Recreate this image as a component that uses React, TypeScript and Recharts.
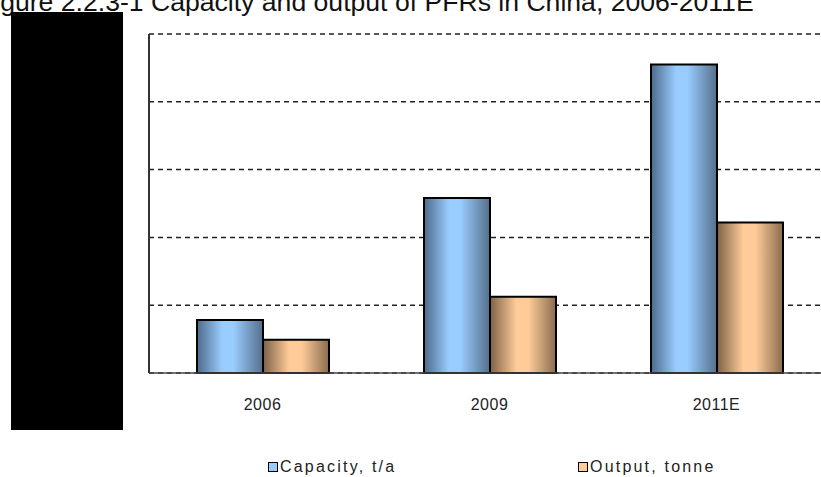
import { Bar, BarChart, CartesianGrid, Legend, XAxis, YAxis } from "recharts";

const years = ["2006", "2009", "2011E"];
const capacity = [7800, 25800, 45500];
const output = [4900, 11250, 22200];
const yTicks = [0, 10000, 20000, 30000, 40000, 50000];

const data = years.map((year, i) => ({
    year,
    capacity: capacity[i],
    output: output[i],
}));

const legendItems = [
    { label: "Capacity, t/a", fill: "#99ccff", left: 268 },
    { label: "Output, tonne", fill: "#ffcc99", left: 578 },
];

function ChartLegend() {
    return (
        <div style={{ position: "relative", width: 821, height: 20 }}>
            {legendItems.map((item) => (
                <div
                    key={item.label}
                    style={{
                        position: "absolute",
                        left: item.left,
                        top: 0,
                        display: "flex",
                        alignItems: "center",
                        fontFamily: "'Liberation Sans', Arial, sans-serif",
                        fontSize: 16,
                        letterSpacing: 2.2,
                        color: "#222",
                        whiteSpace: "nowrap",
                    }}
                >
                    <span
                        style={{
                            display: "inline-block",
                            width: 8,
                            height: 8,
                            background: item.fill,
                            border: "1.5px solid #000",
                            marginRight: 2,
                        }}
                    />
                    {item.label}
                </div>
            ))}
        </div>
    );
}

export default function App() {
    return (
        <div
            style={{
                position: "absolute",
                left: 0,
                top: 0,
                width: 821,
                height: 477,
                overflow: "hidden",
                background: "#fff",
            }}
        >
            <div
                style={{
                    position: "absolute",
                    left: -22,
                    top: -13,
                    fontFamily: "'Liberation Sans', Arial, sans-serif",
                    fontSize: 26.6,
                    color: "#111",
                    whiteSpace: "nowrap",
                }}
            >
                Figure 2.2.3-1 Capacity and output of PFRs in China, 2006-2011E
            </div>
            <BarChart
                width={850}
                height={477}
                data={data}
                margin={{ top: 34, right: 20, left: 0, bottom: 0 }}
                barCategoryGap={48}
                barGap={0}
            >
                <defs>
                    <linearGradient id="blueFill" x1="0" y1="0" x2="1" y2="0">
                        <stop offset="0" stopColor="#4d6a8a" />
                        <stop offset="0.38" stopColor="#99ccff" />
                        <stop offset="0.55" stopColor="#99ccff" />
                        <stop offset="1" stopColor="#556f8c" />
                    </linearGradient>
                    <linearGradient id="orangeFill" x1="0" y1="0" x2="1" y2="0">
                        <stop offset="0" stopColor="#7d6147" />
                        <stop offset="0.4" stopColor="#ffcc99" />
                        <stop offset="0.58" stopColor="#ffcc99" />
                        <stop offset="1" stopColor="#8a6c4e" />
                    </linearGradient>
                </defs>
                <CartesianGrid
                    vertical={false}
                    stroke="#222"
                    strokeDasharray="5 4"
                    strokeWidth={1.5}
                />
                <XAxis
                    dataKey="year"
                    height={40}
                    stroke="#444"
                    strokeWidth={1.5}
                    tickLine={false}
                    tick={{
                        fill: "#222",
                        fontSize: 16,
                        letterSpacing: 0.5,
                        fontFamily: "'Liberation Sans', Arial, sans-serif",
                    }}
                    tickMargin={20}
                />
                <YAxis
                    width={149}
                    domain={[0, 50000]}
                    ticks={yTicks}
                    interval={0}
                    stroke="#333"
                    strokeWidth={2}
                    tickLine={false}
                    tickMargin={24}
                    tick={{ fill: "#000", fontSize: 13 }}
                />
                <Legend
                    verticalAlign="bottom"
                    height={64}
                    content={() => (
                        <div style={{ paddingTop: 45 }}>
                            <ChartLegend />
                        </div>
                    )}
                />
                <Bar
                    dataKey="capacity"
                    name="Capacity, t/a"
                    fill="url(#blueFill)"
                    stroke="#000"
                    strokeWidth={2}
                    isAnimationActive={false}
                />
                <Bar
                    dataKey="output"
                    name="Output, tonne"
                    fill="url(#orangeFill)"
                    stroke="#000"
                    strokeWidth={2}
                    isAnimationActive={false}
                />
            </BarChart>
            <div
                style={{
                    position: "absolute",
                    left: 11,
                    top: 12,
                    width: 112,
                    height: 418,
                    background: "#000",
                }}
            />
        </div>
    );
}
